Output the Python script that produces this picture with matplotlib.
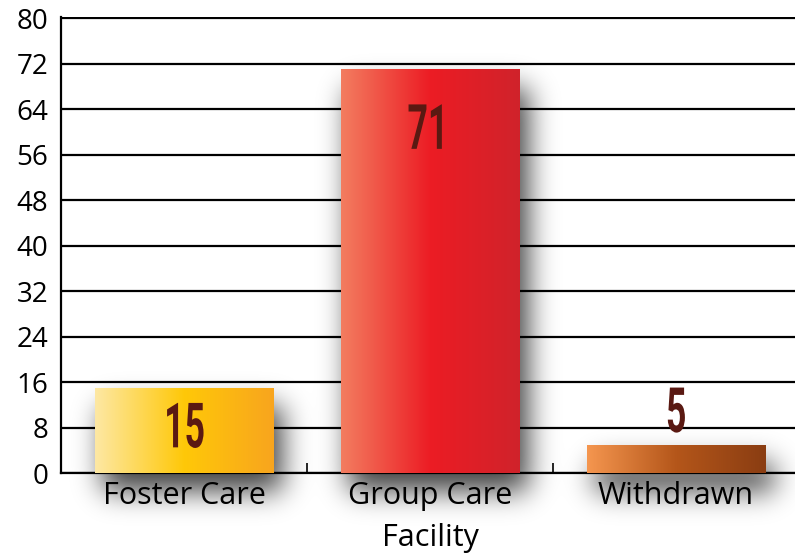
import numpy as np
import matplotlib.pyplot as plt
from matplotlib.colors import LinearSegmentedColormap
from matplotlib.patheffects import AbstractPathEffect
from matplotlib.path import Path
from matplotlib.transforms import Affine2D

categories = ["Foster Care", "Group Care\nFacility", "Withdrawn"]
values = [15, 71, 5]
gradients = [
    ["#fde8a4", "#ffc808", "#f8a51e"],
    ["#f37d60", "#ec1c24", "#d0232b"],
    ["#f5964f", "#b4561a", "#8a3d12"],
]
yticks = list(range(0, 81, 8))


class Squeeze(AbstractPathEffect):
    # narrows glyphs around their own centre to mimic a condensed face
    def __init__(self, sx=0.55, sy=1.0):
        super().__init__()
        self.sx, self.sy = sx, sy

    def draw_path(self, renderer, gc, tpath, affine, rgbFace=None):
        verts = affine.transform(tpath.vertices)
        if tpath.codes is not None:
            verts = verts[tpath.codes != Path.CLOSEPOLY]
        cx = (verts[:, 0].min() + verts[:, 0].max()) / 2
        cy = (verts[:, 1].min() + verts[:, 1].max()) / 2
        squeeze = Affine2D().translate(-cx, -cy).scale(self.sx, self.sy).translate(cx, cy)
        renderer.draw_path(gc, tpath, affine + squeeze, rgbFace)


def blur(a, sigma):
    r = int(3 * sigma)
    k = np.exp(-0.5 * (np.arange(-r, r + 1) / sigma) ** 2)
    k /= k.sum()
    a = np.apply_along_axis(lambda m: np.convolve(m, k, mode="same"), 0, a)
    a = np.apply_along_axis(lambda m: np.convolve(m, k, mode="same"), 1, a)
    return a


plt.rcParams["font.family"] = ["Open Sans", "DejaVu Sans"]

W, H = 795, 554
fig = plt.figure(figsize=(W / 100, H / 100), dpi=100)
# right edge runs slightly past the canvas, as in the original
ax = fig.add_axes([61 / W, 81 / H, 738 / W, 456 / H])
ax.patch.set_visible(False)

x = np.arange(len(categories))
bars = ax.bar(x, values, width=0.724, color="none", zorder=3)

ax.set_xlim(-0.5, 2.5)
ax.set_ylim(0, 80.2)
ax.set_yticks(yticks)
ax.yaxis.grid(True, color="black", linewidth=1.6, zorder=0)
ax.set_axisbelow(True)
ax.tick_params(axis="y", length=0, pad=9, labelsize=20)
ax.set_xticks(x)
ax.set_xticklabels(categories, fontsize=22, linespacing=1.5)
ax.tick_params(axis="x", which="major", length=0, pad=6)
ax.set_xticks([0.5, 1.5], minor=True)
ax.tick_params(axis="x", which="minor", direction="in", length=7, width=1.2)

for side in ["top", "right"]:
    ax.spines[side].set_visible(False)
for side in ["left", "bottom"]:
    ax.spines[side].set_linewidth(1.6)

# blurred drop shadow behind the bars, built from their pixel extents
mask = np.zeros((H, W))
for bar in bars:
    bb = bar.get_window_extent()
    x0, x1 = int(bb.x0 + 9), int(bb.x1 + 9)
    y0, y1 = int(bb.y0 - 18), int(bb.y1 - 18)
    mask[max(y0, 0):max(y1, 0), max(x0, 0):min(x1, W)] = 1.0
mask = blur(mask, 14)
shadow = np.zeros((H, W, 4))
shadow[..., 3] = np.clip(mask * 0.75, 0, 1)
fig.figimage(shadow[::-1], xo=0, yo=0, zorder=-1)

grad = np.linspace(0, 1, 256).reshape(1, -1)
for bar, cols, v in zip(bars, gradients, values):
    bx, by = bar.get_x(), bar.get_y()
    bw, bh = bar.get_width(), bar.get_height()
    cmap = LinearSegmentedColormap.from_list("g", cols)
    im = ax.imshow(grad, cmap=cmap, aspect="auto", extent=[bx, bx + bw, by, by + bh],
                   zorder=3, interpolation="bicubic")
    im.set_clip_path(bar)
    if v > 30:
        ty = v - 11
    elif v > 10:
        ty = v / 2
    else:
        ty = v + 5.2
    ax.text(bx + bw / 2, ty, str(v), ha="center", va="center",
            fontsize=45, fontweight="bold", color="#5a1912",
            family=["Roboto", "DejaVu Sans"], zorder=4,
            path_effects=[Squeeze(0.57, 1.0)])

ax.set_xlim(-0.5, 2.5)
ax.set_ylim(0, 80.2)
fig.savefig("out.png", dpi=100)
